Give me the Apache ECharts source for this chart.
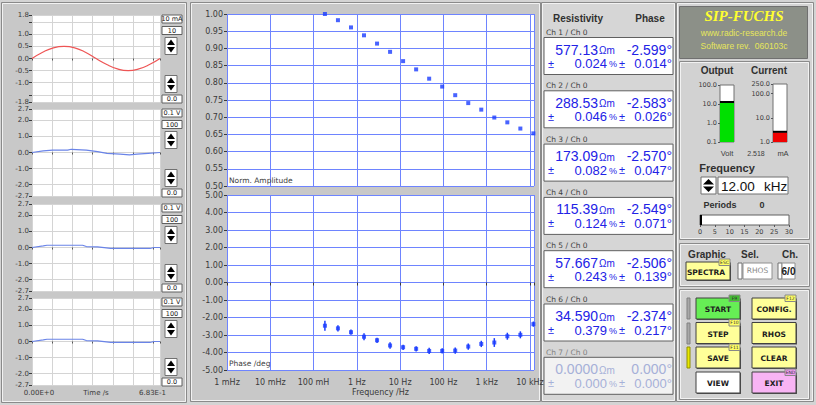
<!DOCTYPE html>
<html><head><meta charset="utf-8">
<script src="https://cdn.jsdelivr.net/npm/echarts@6/dist/echarts.min.js"></script>
<style>html,body{margin:0;padding:0;background:#d4d4d4;}#c{width:816px;height:405px;}</style>
</head><body><div id="c"></div>
<script>
// ---------------- data ----------------
const sineT = [0, 0.057, 0.114, 0.171, 0.228, 0.285, 0.342, 0.399, 0.456, 0.513, 0.570, 0.627, 0.683];
const sineV = [0, 0.26, 0.44, 0.50, 0.44, 0.26, 0.0, -0.25, -0.43, -0.50, -0.43, -0.25, 0.0];
const ch2T = [0, 0.06, 0.11, 0.19, 0.21, 0.29, 0.35, 0.40, 0.47, 0.52, 0.56, 0.62, 0.683];
const ch2V = [0, 0.10, 0.15, 0.15, 0.20, 0.15, 0.05, -0.05, -0.10, -0.15, -0.10, -0.05, 0];
const ch3T = [0, 0.06, 0.08, 0.27, 0.29, 0.35, 0.42, 0.63, 0.65, 0.683];
const ch3V = [0, 0.10, 0.14, 0.14, 0.06, 0.04, -0.06, -0.06, 0, 0];
const ch4T = [0, 0.06, 0.08, 0.27, 0.29, 0.35, 0.42, 0.63, 0.65, 0.683];
const ch4V = [0, 0.10, 0.14, 0.14, 0.06, 0.04, -0.06, -0.06, 0, 0];
const timeMax = 0.683;

const freqHz = [0.183, 0.366, 0.732, 1.465, 2.93, 5.86, 11.72, 23.44, 46.88, 93.75, 187.5, 375, 750, 1500, 3000, 6000, 12000];
const normAmp = [1.000, 0.982, 0.961, 0.938, 0.914, 0.890, 0.863, 0.839, 0.812, 0.789, 0.764, 0.741, 0.722, 0.699, 0.685, 0.667, 0.653];
const phaseDeg = [-2.47, -2.62, -2.84, -3.10, -3.30, -3.60, -3.70, -3.79, -3.91, -3.91, -3.89, -3.66, -3.51, -3.43, -3.07, -2.99, -2.38];
const phaseErr = [0.28, 0.18, 0.15, 0.20, 0.15, 0.18, 0.15, 0.15, 0.18, 0.15, 0.18, 0.18, 0.18, 0.25, 0.20, 0.20, 0.15];
const freqTickLabels = ['1 mHz', '10 mHz', '100 mH', '1 Hz', '10 Hz', '100 Hz', '1 kHz', '10 kHz'];

const chNames = ['Ch 1 / Ch 0', 'Ch 2 / Ch 0', 'Ch 3 / Ch 0', 'Ch 4 / Ch 0', 'Ch 5 / Ch 0', 'Ch 6 / Ch 0', 'Ch 7 / Ch 0'];
const rhoVals = ['577.13', '288.53', '173.09', '115.39', '57.667', '34.590', '0.0000'];
const rhoErrs = ['0.024', '0.046', '0.082', '0.124', '0.243', '0.379', '0.000'];
const phVals = ['-2.599', '-2.583', '-2.570', '-2.549', '-2.506', '-2.374', '0.000'];
const phErrs = ['0.014', '0.026', '0.047', '0.071', '0.139', '0.217', '0.000'];

const outputVolt = 12;
const currentMA = 2.518;
const frequencyText = '12.00';
const periodsCount = 0;

const plotUnits = ['10 mA', '0.1 V', '0.1 V', '0.1 V'];
const plotGains = ['10', '100', '100', '100'];
const plotOffsets = ['0.0', '0.0', '0.0', '0.0'];

// ---------------- helpers ----------------
const SANS = 'Liberation Sans';
const DV = 'DejaVu Sans';
const G = [];
function rect(x, y, w, h, fill, stroke, z, lw) {
  G.push({type: 'rect', z: z == null ? -5 : z, silent: true, shape: {x, y, width: w, height: h},
    style: {fill: fill, stroke: stroke || null, lineWidth: lw || 1}});
}
function panel(x, y, w, h, fill) {
  rect(x, y, w, h, fill, '#8a8a8a', -6);
  rect(x + 1, y + 1, w - 2, h - 2, 'none', '#f2f2f2', -5);
}
function txt(x, y, s, o) {
  o = o || {};
  G.push({type: 'text', z: 50, silent: true, x, y, style: {text: s, fill: o.fill || '#202020',
    fontSize: o.size || 9, fontFamily: o.family || SANS, fontWeight: o.weight || 'normal',
    fontStyle: o.style || 'normal', align: o.align || 'left', verticalAlign: 'middle'}});
}
function spinner(x, y, w, h) {
  rect(x, y, w, h, '#ffffff', '#707070', 20);
  const m = y + h / 2;
  G.push({type: 'polygon', z: 30, silent: true, shape: {points: [[x + w / 2, y + 2], [x + 2, m - 1], [x + w - 2, m - 1]]}, style: {fill: '#000'}});
  G.push({type: 'polygon', z: 30, silent: true, shape: {points: [[x + 2, m + 1], [x + w - 2, m + 1], [x + w / 2, y + h - 2]]}, style: {fill: '#000'}});
}

// ---------------- panels ----------------
panel(1.5, 2.5, 185, 400, '#c8c8c8');
panel(190.5, 2.5, 350, 399, '#c8c8c8');
panel(541.5, 2.5, 134, 399, '#d6d6d6');
panel(676.5, 2.5, 137, 399, '#d4d4d4');
rect(679.5, 6.5, 128, 52, '#8c9088', '#707070', -4);
panel(679.5, 61.5, 130, 178, '#d2d2d2');
panel(679.5, 243.5, 130, 43, '#d2d2d2');
panel(679.5, 289.5, 130, 110, '#d2d2d2');

// left plot controls
const plotTops = [15, 109, 204, 298];
plotTops.forEach((T, i) => {
  rect(162, T, 20, 8, '#ffffff', '#606060', 20);
  txt(172, T + 4, plotUnits[i], {size: 6.5, align: 'center', family: DV});
  rect(162, T + 11.5, 20, 8, '#ffffff', '#606060', 20);
  txt(172, T + 15.5, plotGains[i], {size: 6.5, align: 'center', family: DV});
  spinner(165, T + 22.5, 12, 17);
  spinner(165, T + 60.5, 12, 17);
  rect(162, T + 80, 20, 8, '#ffffff', '#606060', 20);
  txt(172, T + 84, plotOffsets[i], {size: 6.5, align: 'center', family: DV});
});

// center plot captions
txt(229, 180, 'Norm. Amplitude', {size: 7.5, family: DV, fill: '#404040'});
txt(229, 363, 'Phase /deg', {size: 7.5, family: DV, fill: '#404040'});

// table
txt(578, 18, 'Resistivity', {size: 10, weight: 'bold', align: 'center', fill: '#303030'});
txt(650, 18, 'Phase', {size: 10, weight: 'bold', align: 'center', fill: '#303030'});
chNames.forEach((n, i) => {
  const by = 37.5 + 53.3 * i;
  const dim = i === 6;
  const col = dim ? '#a6b0d8' : '#2222e6';
  txt(546, by - 5, n, {size: 7.5, family: DV, fill: dim ? '#808080' : '#404040'});
  rect(544, by, 129, 37, dim ? '#f2f2f2' : '#ffffff', '#606060', -3);
  txt(598, by + 12, rhoVals[i], {size: 14, align: 'right', fill: col});
  txt(599, by + 13, 'Ωm', {size: 10, fill: col});
  txt(672, by + 12, phVals[i] + '°', {size: 14, align: 'right', fill: col});
  txt(548, by + 26, '±', {size: 11, fill: col});
  txt(607, by + 26, rhoErrs[i], {size: 13, align: 'right', fill: col});
  txt(609, by + 26.5, '%', {size: 9, fill: col});
  txt(622, by + 26, '±', {size: 11, align: 'center', fill: col});
  txt(672, by + 26, phErrs[i] + '°', {size: 13, align: 'right', fill: col});
});

// title box
txt(744, 16, 'SIP-FUCHS', {size: 15, weight: 'bold', style: 'italic', family: 'Liberation Serif', align: 'center', fill: '#ffff30'});
txt(744, 33, 'www.radic-research.de', {size: 8.5, align: 'center', fill: '#e6e65a'});
txt(744, 46, 'Software rev.  060103c', {size: 8.5, align: 'center', fill: '#e6e65a'});

// output / current
txt(717, 70, 'Output', {size: 10, weight: 'bold', align: 'center', fill: '#303030'});
txt(769, 70, 'Current', {size: 10, weight: 'bold', align: 'center', fill: '#303030'});
txt(727, 153, 'Volt', {size: 7.5, align: 'center', fill: '#404040'});
txt(756, 153, currentMA.toFixed(3), {size: 7, align: 'center', fill: '#404040'});
txt(783, 153, 'mA', {size: 7.5, align: 'center', fill: '#404040'});
txt(727, 168, 'Frequency', {size: 11, weight: 'bold', align: 'center', fill: '#303030'});
spinner(701, 177, 15, 17);
rect(718, 177, 70, 17, '#ffffff', '#707070', 20);
txt(721, 186, frequencyText, {size: 13.5, fill: '#101010'});
txt(764, 186, 'kHz', {size: 13.5, fill: '#101010'});
txt(720, 205, 'Periods', {size: 9, weight: 'bold', align: 'center', fill: '#303030'});
txt(762, 205, String(periodsCount), {size: 9, weight: 'bold', align: 'center', fill: '#303030'});
rect(700, 215, 2, 10, '#000000', null, 20);

// graphic / sel / ch
txt(707, 254, 'Graphic', {size: 10, weight: 'bold', align: 'center', fill: '#303030'});
txt(750, 254, 'Sel.', {size: 10, weight: 'bold', align: 'center', fill: '#303030'});
txt(790, 254, 'Ch.', {size: 10, weight: 'bold', align: 'center', fill: '#303030'});
function button(x, y, w, h, label, fill, tag, tagFill, dx) {
  rect(x + 1, y + 1, w, h, '#505050', null, 18);
  rect(x, y, w, h, fill, '#404040', 19);
  txt(x + w / 2 + (dx || 0), y + h / 2 + 1, label, {size: 7.5, weight: 'bold', align: 'center', family: DV, fill: '#202020'});
  if (tag) {
    rect(x + w - 11, y - 3, 11, 6.5, tagFill || '#ffff66', '#888', 21);
    txt(x + w - 5.5, y + 0.3, tag, {size: 4.5, align: 'center', family: DV, fill: '#303030'});
  }
}
button(686, 262, 44, 18, 'SPECTRA', '#ffff99', 'ESC', null, -2);
spinner(738, 263, 4, 16);
rect(743, 263, 29, 16, '#ffffff', '#909090', 20);
txt(757.5, 270, 'RHOS', {size: 7.5, align: 'center', family: DV, fill: '#8a8a8a'});
spinner(778, 263, 4, 16);
rect(782, 263, 13, 16, '#ffffff', '#909090', 20);
txt(788.5, 271, '6/0', {size: 10, weight: 'bold', align: 'center', fill: '#202020'});

rect(687, 298, 3, 21, '#a8a8a8', '#808080', 18);
rect(687, 323, 3, 21, '#a8a8a8', '#808080', 18);
rect(687, 347, 3, 21, '#e8e800', '#909000', 18);
button(696, 298, 44, 21, 'START', '#66ee55', 'F9', '#44bb33');
button(752, 298, 44, 21, 'CONFIG.', '#ffff99', 'F12');
button(696, 322.5, 44, 21, 'STEP', '#ffff99', 'F10');
button(752, 322.5, 44, 21, 'RHOS', '#ffff99');
button(696, 347, 44, 21, 'SAVE', '#ffff99', 'F11');
button(752, 347, 44, 21, 'CLEAR', '#ffff99');
button(696, 372, 44, 21, 'VIEW', '#ffffff');
button(752, 372, 44, 21, 'EXIT', '#f8b4f4', 'END', '#f0a0f0');

// ---------------- axes ----------------
const smallLbl = {fontSize: 7, fontFamily: DV, color: '#3a3a3a', margin: 3};
const smallTick = {show: true, length: 3, lineStyle: {color: '#3a3a3a'}};
const grid = [];
const xAxis = [];
const yAxis = [];
const series = [];
const leftTraces = [[sineT, sineV, '#ee5555'], [ch2T, ch2V, '#6a84e8'], [ch3T, ch3V, '#6a84e8'], [ch4T, ch4V, '#6a84e8']];
plotTops.forEach((T, i) => {
  grid.push({left: 32, top: T, width: 128, height: 87, show: true, backgroundColor: '#ffffff', borderWidth: 0});
  const last = i === 3;
  xAxis.push({type: 'value', gridIndex: i, min: 0, max: timeMax, interval: 0.108,
    axisLine: {show: false}, axisTick: {show: true, length: 2, lineStyle: {color: '#555'}},
    splitLine: {show: true, lineStyle: {color: '#d4d4d4'}},
    axisLabel: {show: last, fontSize: 7, fontFamily: DV, color: '#3a3a3a', margin: 4,
      formatter: v => v === 0 ? '{a|0.00E+0}' : (Math.abs(v - timeMax) < 1e-9 ? '{b|6.83E-1}' : ''),
      rich: {a: {fontSize: 7, fontFamily: DV, color: '#3a3a3a', padding: [0, 0, 0, 14]},
             b: {fontSize: 7, fontFamily: DV, color: '#3a3a3a', padding: [0, 15, 0, 0]}}},
    name: last ? 'Time /s' : '', nameLocation: 'middle', nameGap: 4, nameMoveOverlap: false,
    nameTextStyle: {fontSize: 7, fontFamily: DV, color: '#3a3a3a'}});
  const r = i === 0 ? 1.8 : 2.7;
  const lab = i === 0 ? [-1.8, -1, -0.5, 0, 0.5, 1, 1.8] : [-2.7, -2, -1, 0, 1, 2, 2.7];
  const tk = i === 0 ? [-1.8, -1.5, -1, -0.5, 0, 0.5, 1, 1.5, 1.8] : lab;
  yAxis.push({type: 'value', gridIndex: i, min: -r, max: r,
    axisLine: {show: false}, axisTick: Object.assign({customValues: tk}, smallTick),
    splitLine: {show: true, lineStyle: {color: '#d4d4d4'}},
    axisLabel: Object.assign({customValues: lab, formatter: v => v.toFixed(1)}, smallLbl)});
  series.push({type: 'line', xAxisIndex: i, yAxisIndex: i, showSymbol: false, smooth: i === 0,
    data: leftTraces[i][0].map((t, k) => [t, leftTraces[i][1][k]]),
    lineStyle: {color: leftTraces[i][2], width: 1.2}, itemStyle: {color: leftTraces[i][2]}});
});

const blueGrid = {show: true, lineStyle: {color: '#6e84ff', width: 1}};
const bigLbl = {fontSize: 8, fontFamily: DV, color: '#3a3a3a', margin: 4};
const freqFmt = v => {
  const e = Math.log10(v), r = Math.round(e);
  if (Math.abs(e - r) > 1e-6) return '';
  return freqTickLabels[r + 3] || '';
};
// amplitude grid (4)
grid.push({left: 227, top: 14, width: 307, height: 172, show: true, backgroundColor: '#ffffff', borderWidth: 0});
xAxis.push({type: 'log', gridIndex: 4, logBase: 10, min: 0.001, max: 12400,
  axisLine: {show: false}, axisTick: {show: false}, axisLabel: {show: false}, splitLine: blueGrid});
yAxis.push({type: 'value', gridIndex: 4, min: 0.5, max: 1.0, interval: 0.05,
  axisLine: {show: false}, axisTick: {show: true, length: 3, lineStyle: {color: '#3a3a3a'}},
  splitLine: blueGrid, axisLabel: Object.assign({formatter: v => v.toFixed(2)}, bigLbl)});
// phase grid (5)
grid.push({left: 227, top: 195, width: 307, height: 175, show: true, backgroundColor: '#ffffff', borderWidth: 0});
xAxis.push({type: 'log', gridIndex: 5, logBase: 10, min: 0.001, max: 12400,
  axisLine: {show: false}, axisTick: {show: true, length: 3, lineStyle: {color: '#3a3a3a'}},
  axisLabel: {formatter: freqFmt, fontSize: 8, fontFamily: DV, color: '#3a3a3a', margin: 8},
  splitLine: blueGrid, name: 'Frequency /Hz', nameLocation: 'middle', nameGap: 18,
  nameTextStyle: {fontSize: 8, fontFamily: DV, color: '#3a3a3a'}});
yAxis.push({type: 'value', gridIndex: 5, min: -5, max: 5, interval: 1,
  axisLine: {show: false}, axisTick: {show: true, length: 3, lineStyle: {color: '#3a3a3a'}},
  splitLine: blueGrid, axisLabel: Object.assign({formatter: v => v.toFixed(2)}, bigLbl)});

series.push({type: 'scatter', xAxisIndex: 4, yAxisIndex: 4, symbol: 'rect', symbolSize: 4,
  itemStyle: {color: '#1a3cff'}, data: freqHz.map((f, i) => [f, normAmp[i]]), clip: true});
series.push({type: 'custom', xAxisIndex: 5, yAxisIndex: 5, clip: true,
  data: freqHz.map((f, i) => [f, phaseDeg[i] - phaseErr[i], phaseDeg[i] + phaseErr[i]]),
  renderItem: (p, api) => {
    const a = api.coord([api.value(0), api.value(1)]);
    const b = api.coord([api.value(0), api.value(2)]);
    return {type: 'line', shape: {x1: a[0], y1: a[1], x2: b[0], y2: b[1]}, style: {stroke: '#1a3cff', lineWidth: 1.5}};
  }});
series.push({type: 'scatter', xAxisIndex: 5, yAxisIndex: 5, symbol: 'rect', symbolSize: 4,
  itemStyle: {color: '#1a3cff'}, data: freqHz.map((f, i) => [f, phaseDeg[i]]), clip: true});

// gauges (6: output, 7: current)
const gaugeLbl = {fontSize: 6.5, fontFamily: DV, color: '#3a3a3a', margin: 3, formatter: v => v.toFixed(1)};
grid.push({left: 720, top: 85, width: 14, height: 57, show: true, backgroundColor: '#ffffff', borderColor: '#707070', borderWidth: 1});
xAxis.push({type: 'category', gridIndex: 6, data: ['Output'], show: false});
yAxis.push({type: 'log', gridIndex: 6, min: 0.1, max: 100, splitLine: {show: false},
  axisLine: {show: false}, axisTick: {show: true, length: 2}, axisLabel: gaugeLbl});
grid.push({left: 773, top: 84, width: 14, height: 58, show: true, backgroundColor: '#ffffff', borderColor: '#707070', borderWidth: 1});
xAxis.push({type: 'category', gridIndex: 7, data: ['Current'], show: false});
yAxis.push({type: 'log', gridIndex: 7, min: 1, max: 250, splitLine: {show: false},
  axisLine: {show: false}, axisTick: {show: true, length: 2}, axisLabel: gaugeLbl});
function gaugeItem(color) {
  return (p, api) => {
    const cs = p.coordSys;
    const top = api.coord([0, api.value(1)]);
    const bottom = cs.y + cs.height;
    return {type: 'group', children: [
      {type: 'rect', shape: {x: cs.x, y: top[1], width: cs.width, height: bottom - top[1]}, style: {fill: color}},
      {type: 'rect', shape: {x: cs.x, y: top[1] - 1.5, width: cs.width, height: 2}, style: {fill: '#000'}}
    ]};
  };
}
series.push({type: 'custom', xAxisIndex: 6, yAxisIndex: 6, data: [[0, outputVolt]], renderItem: gaugeItem('#00e000')});
series.push({type: 'custom', xAxisIndex: 7, yAxisIndex: 7, data: [[0, currentMA]], renderItem: gaugeItem('#f00000')});

// periods bar (8)
grid.push({left: 700, top: 215, width: 89, height: 10, show: true, backgroundColor: '#ffffff', borderColor: '#606060', borderWidth: 1});
xAxis.push({type: 'value', gridIndex: 8, min: 0, max: 30, interval: 5, splitLine: {show: false},
  axisLine: {show: false}, axisTick: {show: true, length: 2},
  axisLabel: {fontSize: 6.5, fontFamily: DV, color: '#3a3a3a', margin: 3}});
yAxis.push({type: 'category', gridIndex: 8, data: ['Periods'], show: false});
series.push({type: 'bar', xAxisIndex: 8, yAxisIndex: 8, data: [periodsCount], barWidth: 10, itemStyle: {color: '#3050ff'}});

const chart = echarts.init(document.getElementById('c'), null, {renderer: 'svg', width: 816, height: 405});
chart.setOption({
  animation: false,
  backgroundColor: '#d4d4d4',
  grid, xAxis, yAxis, series,
  graphic: {elements: G}
});
</script>
</body></html>
